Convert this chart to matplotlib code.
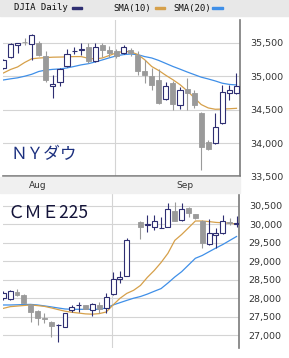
import matplotlib
matplotlib.use("Agg")
import matplotlib.pyplot as plt
from matplotlib.patches import Rectangle
import numpy as np

# ---------------- data: NY Dow (DJIA daily) ----------------
dj_open  = [35126, 35290, 35470, 35520, 35490, 35500, 35305, 34860, 34916, 35156,
            35375, 35395, 35440, 35230, 35475, 35390, 35376, 35350, 35400, 35325,
            35085, 35006, 34946, 34657, 34897, 34572, 34807, 34747, 34457, 34022,
            34008, 34298, 34747, 34747]
dj_close = [35246, 35485, 35500, 35510, 35620, 35320, 34946, 34880, 35111, 35335,
            35385, 35405, 35230, 35440, 35400, 35350, 35300, 35440, 35350, 35085,
            35025, 34871, 34597, 34856, 34587, 34796, 34747, 34572, 33948, 33909,
            34247, 34771, 34796, 34856]
dj_high  = [35260, 35500, 35505, 35570, 35630, 35530, 35380, 35021, 35130, 35415,
            35440, 35500, 35500, 35500, 35500, 35455, 35410, 35475, 35420, 35380,
            35246, 35126, 35111, 34920, 34931, 34846, 34976, 34790, 34470, 34040,
            34452, 34871, 34871, 35046]
dj_low   = [35110, 35280, 35350, 35470, 35246, 35300, 34916, 34677, 34856, 35140,
            35335, 35320, 35200, 35210, 35290, 35290, 35280, 35340, 35305, 35020,
            34900, 34796, 34580, 34647, 34497, 34507, 34497, 34527, 33599, 33890,
            33990, 34280, 34647, 34740]
dj_sma10 = [35051, 35103, 35141, 35208, 35263, 35274, 35281, 35287, 35289, 35292,
            35296, 35296, 35271, 35260, 35275, 35313, 35353, 35373, 35368, 35328,
            35249, 35147, 35087, 35015, 34949, 34876, 34784, 34682, 34578, 34527,
            34507, 34510, 34515, 34521]
dj_sma20 = [34946, 34963, 34978, 35002, 35031, 35073, 35094, 35105, 35111, 35126,
            35148, 35172, 35189, 35216, 35246, 35278, 35307, 35326, 35334, 35326,
            35296, 35275, 35238, 35193, 35148, 35108, 35066, 35027, 34988, 34961,
            34931, 34897, 34879, 34871]
dj_ticks = [33500, 34000, 34500, 35000, 35500]

# ---------------- data: CME225 ----------------
nan = float("nan")
cme_open  = [28000, 27981, 28178, 28089, 27819, 27656, 27470, 27367, 27270, 27232,
             27684, 27810, 27819, 27684, 27819, 27729, 28108, 28513, 28603, nan,
             30070, 29990, 29935, 29890, 29935, 30368, 30116, 30432, 30278, 30097,
             29467, 29711, 29757, 30070, 30020]
cme_close = [28135, 28205, 28089, 27881, 27638, 27459, 27450, 27259, 27285, 27594,
             27773, 27825, 27711, 27846, 27702, 28043, 28521, 28584, 29576, nan,
             29935, 30000, 30097, 29905, 30405, 30097, 30414, 30314, 30162, 29486,
             29773, 29757, 30089, 30027, 30030]
cme_high  = [28200, 28230, 28243, 28110, 27840, 27690, 27602, 27380, 27300, 27610,
             27819, 27908, 27830, 27860, 27908, 28135, 28719, 28738, 29622, nan,
             30080, 30251, 30251, 30200, 30568, 30611, 30576, 30476, 30290, 30110,
             30135, 29900, 30251, 30162, 30232]
cme_low   = [27950, 27960, 28060, 27860, 27367, 27278, 27324, 26962, 26830, 27220,
             27638, 27638, 27700, 27530, 27594, 27594, 28100, 28413, 28590, nan,
             29595, 29792, 29846, 29890, 29920, 30080, 30100, 30205, 30140, 29351,
             29440, 29351, 29740, 29981, 29935]
cme_sma10 = [27727, 27773, 27789, 27805, 27819, 27802, 27781, 27740, 27694, 27651,
             27621, 27600, 27578, 27570, 27586, 27629, 27819, 27997, 28132, 28216,
             28348, 28565, 28751, 28967, 29216, 29565, 29724, 29905, 30089, 30089,
             30073, 30051, 30041, 30030, 30008]
cme_sma20 = [27819, 27819, 27824, 27830, 27835, 27819, 27794, 27767, 27738, 27711,
             27702, 27702, 27702, 27702, 27702, 27738, 27819, 27881, 27943, 28002,
             28048, 28113, 28189, 28262, 28413, 28576, 28719, 28900, 29081, 29157,
             29259, 29359, 29454, 29562, 29670]
cme_ticks = [27000, 27500, 28000, 28500, 29000, 29500, 30000, 30500]

month_labels = ["Aug", "Sep"]
legend_labels = ["DJIA Daily", "SMA(10)", "SMA(20)"]

# ---------------- styling ----------------
W, H = 289, 358
UP_EDGE = "#2e2e72"
DOWN = "#9a9a9a"
C_SMA10 = "#d6a04a"
C_SMA20 = "#3f8fe8"
GRID = "#d4d4d4"
SPINE = "#7a7a7a"

fig = plt.figure(figsize=(W / 100, H / 100), dpi=100)
fig.patch.set_facecolor("white")


def px_axes(x0, y0, x1, y1):
    return fig.add_axes([x0 / W, 1 - y1 / H, (x1 - x0) / W, (y1 - y0) / H])


def candles(ax, o, c, h, l):
    n = len(o)
    x = np.arange(n)
    o = np.array(o, float); c = np.array(c, float)
    h = np.array(h, float); l = np.array(l, float)
    ok = ~np.isnan(o)
    up = ok & (c >= o)
    dn = ok & (c < o)
    ax.vlines(x[up], l[up], h[up], color=UP_EDGE, lw=0.8, zorder=3)
    ax.vlines(x[dn], l[dn], h[dn], color=DOWN, lw=0.8, zorder=3)
    bot = np.minimum(o, c)
    hgt = np.abs(c - o)
    ax.bar(x[dn], hgt[dn], bottom=bot[dn], width=0.72, color=DOWN,
           edgecolor=DOWN, lw=0.6, zorder=4)
    ax.bar(x[up], hgt[up], bottom=bot[up], width=0.72, color="white",
           edgecolor=UP_EDGE, lw=0.8, zorder=4)


def style(ax, ticks, ylim, xlim, vgrid, bottom_spine):
    ax.set_xlim(*xlim)
    ax.set_ylim(*ylim)
    ax.set_yticks(ticks)
    ax.set_yticklabels([f"{t:,}" for t in ticks], fontsize=6.8, color="#333333",
                       family="DejaVu Sans")
    ax.yaxis.tick_right()
    ax.tick_params(axis="y", length=0, pad=7)
    ax.set_xticks([])
    for t in ticks:
        ax.axhline(t, color=GRID, lw=0.8, zorder=1)
    ax.axvline(vgrid, color=GRID, lw=0.8, zorder=1)
    for s in ["top", "left"]:
        ax.spines[s].set_visible(False)
    ax.spines["right"].set_color(SPINE)
    ax.spines["right"].set_linewidth(1.2)
    if bottom_spine:
        ax.spines["bottom"].set_color(SPINE)
        ax.spines["bottom"].set_linewidth(1.2)
    else:
        ax.spines["bottom"].set_visible(False)


# header band
fig.patches.append(Rectangle((0, 1 - 15.5 / H), 1, 15.5 / H, transform=fig.transFigure,
                             color="#e8e8e8", zorder=0))
hy = 1 - 8 / H
fig.text(14 / W, hy, legend_labels[0], fontsize=6.5, family="DejaVu Sans Mono",
         va="center", ha="left", color="#111111")
fig.text(113 / W, hy, legend_labels[1], fontsize=6.5, family="DejaVu Sans Mono",
         va="center", ha="left", color="#111111")
fig.text(173 / W, hy, legend_labels[2], fontsize=6.5, family="DejaVu Sans Mono",
         va="center", ha="left", color="#111111")
for (xa, xb, col) in [(72, 82, UP_EDGE), (155, 165, C_SMA10), (212, 223, C_SMA20)]:
    fig.patches.append(Rectangle((xa / W, 1 - 9 / H), (xb - xa) / W, 2.2 / H,
                                 transform=fig.transFigure, color=col, zorder=2))

# month label band
fig.patches.append(Rectangle((0, 1 - 193 / H), 240 / W, (193 - 176.5) / H,
                             transform=fig.transFigure, color="#f0f0f0", zorder=0))

# ---- top panel ----
ax1 = px_axes(3, 20, 240, 176.5)
n1 = len(dj_open)
x1 = np.arange(n1)
ax1.plot(x1, dj_sma20, color=C_SMA20, lw=0.9, zorder=2)
ax1.plot(x1, dj_sma10, color=C_SMA10, lw=0.9, zorder=2)
candles(ax1, dj_open, dj_close, dj_high, dj_low)
style(ax1, dj_ticks, (33500, 35844), (-0.07, 33.5), 15.8, True)
ax1.text(0.03, 0.14, "ＮＹダウ", transform=ax1.transAxes, fontsize=12,
         family=["Noto Sans CJK JP", "DejaVu Sans"], color="#1b2f7e",
         va="center", ha="left")

fig.text(38 / W, 1 - 186 / H, month_labels[0], fontsize=6.5, color="#333333",
         ha="center", va="center")
fig.text(185 / W, 1 - 186 / H, month_labels[1], fontsize=6.5, color="#333333",
         ha="center", va="center")

# ---- bottom panel ----
ax2 = px_axes(3, 193, 239, 348)
n2 = len(cme_open)
x2 = np.arange(n2)
ax2.plot(x2, cme_sma20, color=C_SMA20, lw=0.9, zorder=2)
ax2.plot(x2, cme_sma10, color=C_SMA10, lw=0.9, zorder=2)
candles(ax2, cme_open, cme_close, cme_high, cme_low)
style(ax2, cme_ticks, (26656, 30846), (-0.04, 34.36), 15.85, False)
ax2.text(0.02, 0.875, "ＣＭＥ225", transform=ax2.transAxes, fontsize=12.5,
         family=["Noto Sans CJK JP", "DejaVu Sans"], color="#14143a",
         va="center", ha="left")

fig.savefig("out.png", dpi=100)
